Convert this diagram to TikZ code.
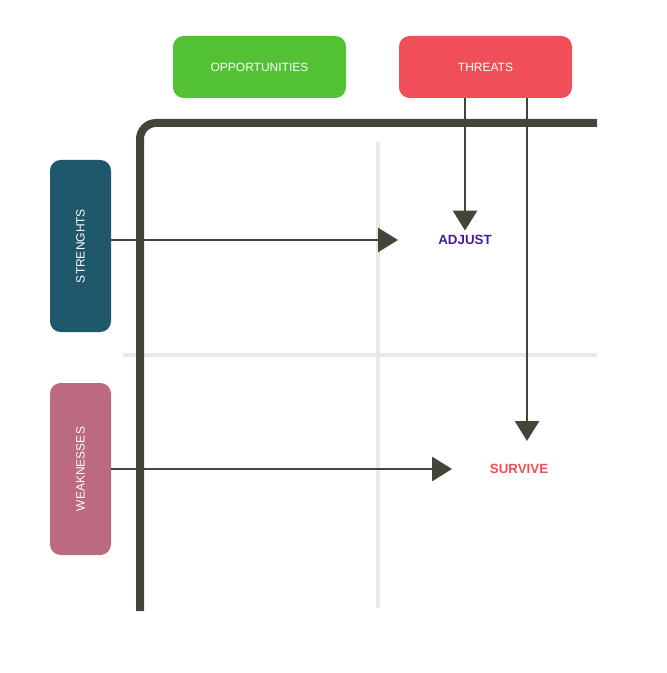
\documentclass[tikz,border=0pt]{standalone}
\usepackage{fontspec}
\setsansfont{Liberation Sans}
\usepackage{xcolor}
\usetikzlibrary{arrows.meta}
\definecolor{oppgreen}{RGB}{82,194,52}
\definecolor{thrred}{RGB}{240,78,88}
\definecolor{strblue}{RGB}{31,87,107}
\definecolor{weakpink}{RGB}{187,106,127}
\definecolor{axisgray}{RGB}{69,68,58}
\definecolor{gridgray}{RGB}{232,232,232}
\definecolor{adjpurple}{RGB}{68,28,150}
\tikzset{
  topbox/.style={rounded corners=8pt,minimum width=129.75pt,minimum height=46.5pt,inner sep=0pt,text=white,font=\sffamily\small},
  sidebox/.style={rounded corners=8pt,minimum width=129pt,minimum height=45.75pt,inner sep=0pt,text=white,font=\sffamily\small,rotate=90},
  flow/.style={axisgray,line width=2.2pt,-{Triangle[length=15pt,width=18pt]}},
}
\begin{document}
\begin{tikzpicture}[x=0.75pt,y=0.75pt,yscale=-1,xscale=1]
\useasboundingbox (0,0) rectangle (666,673);

%Grid
\draw [gridgray,line width=3pt] (378,142) -- (378,608) ;
\draw [gridgray,line width=3pt] (123,355) -- (597,355) ;
%Axis
\draw [axisgray,line width=6pt,rounded corners=12pt] (140,611) -- (140,123) -- (597,123) ;

% Boxes
\node [topbox,fill=oppgreen] (opp) at (259.5,67) {OPPORTUNITIES};
\node [topbox,fill=thrred] (thr) at (485.5,67) {THREATS};
\node [sidebox,fill=strblue] (str) at (80.5,246) {STRENGHTS};
\node [sidebox,fill=weakpink] (weak) at (80.5,469) {WEAKNESSES};

% Results
\node [font=\sffamily\bfseries,text=adjpurple] (adj) at (465,240) {ADJUST};
\node [font=\sffamily\bfseries,text=thrred] (surv) at (519,469) {SURVIVE};

% Arrows
\coordinate (adjin) at (398,240);
\coordinate (survin) at (452,469);
\coordinate (thrl) at (465,98);
\coordinate (thrr) at (527,98);
\draw [flow] (str.south |- adjin) -- (adjin) ;
\draw [flow] (weak.south |- survin) -- (survin) ;
\draw [flow] (thrl) -- (adj.north) ;
\draw [flow] (thrr) -- (527,441) ;
\end{tikzpicture}
\end{document}
